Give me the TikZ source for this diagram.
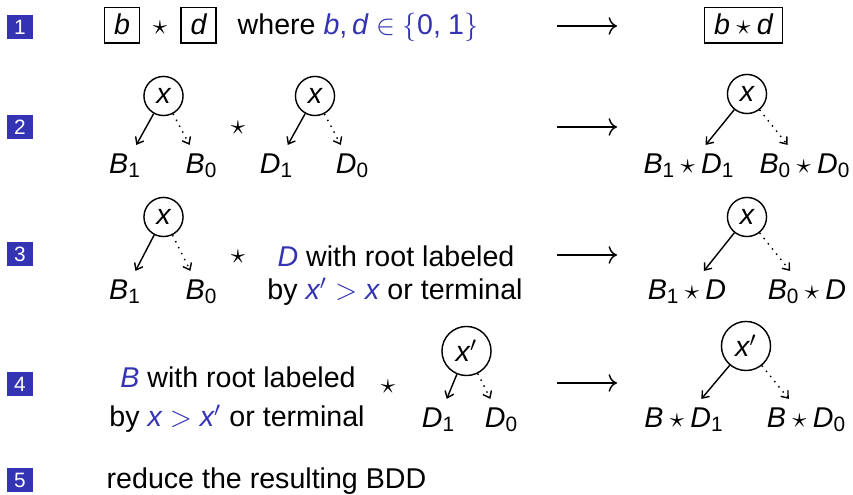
\documentclass[tikz,border=0pt]{standalone}
\usepackage{fontspec}
\setmainfont{Liberation Sans}
\usetikzlibrary{arrows.meta}
\definecolor{mblue}{RGB}{51,51,179}
% italic variable, small lowered index, binary star, relation with spacing
\newcommand\mv[1]{{\itshape #1}}
\newcommand\lo[1]{\raisebox{-1.5pt}{\fontsize{8}{8}\selectfont #1}}
\newcommand\op{\hspace{0.222em}$\star$\hspace{0.222em}}
\newcommand\rl[1]{\hspace{0.278em}$#1$\hspace{0.278em}}
\begin{document}
\begin{tikzpicture}[x=0.3846pt,y=-0.3846pt,
  font=\fontsize{11}{13}\selectfont, line width=0.55pt,
  num/.style={fill=mblue, text=white, minimum width=10pt, minimum height=9.6pt,
    inner sep=0pt, font=\fontsize{8}{8}\selectfont},
  txt/.style={inner sep=0pt, anchor=base},
  sym/.style={inner sep=0pt, anchor=center},
  bxd/.style={draw, inner xsep=3.6pt, inner ysep=3pt, text height=7.5pt,
    text depth=0pt, anchor=base},
  var/.style={draw, circle, inner sep=2.5pt, minimum size=15pt},
  leaf/.style={anchor=base},
  hiedge/.style={-{Straight Barb[length=2.3pt,width=3.6pt]}},
  loedge/.style={-{Straight Barb[length=2.3pt,width=3.6pt]}, dotted},
  flow/.style={-{To[scale=1.15]}}]
\useasboundingbox (0,0) rectangle (853,495);

% item markers
\node[num] (n1) at (20,27) {1};
\node[num] (n2) at (20,127) {2};
\node[num] (n3) at (20,254) {3};
\node[num] (n4) at (20,384) {4};
\node[num] (n5) at (20,480) {5};

% case 1: two terminals
\node[bxd] (bb) at (122,35) {\mv{b}};
\node[sym] (s1) at (160,28) {$\star$};
\node[bxd] (bd) at (198.5,35) {\mv{d}};
\node[txt, anchor=base west] (wh) at (237,35)
  {where \textcolor{mblue}{\mv{b},\,\mv{d}\rl{\in}$\{$0,\hspace{0.25em}1$\}$}};
\coordinate (a1s) at (557,26);
\coordinate (a1e) at (617,26);
\draw[flow] (a1s) -- (a1e);
\node[bxd] (bsd) at (743.5,35) {\mv{b}\op\mv{d}};

% case 2: same root variable
\node[var] (p2a) at (163.5,96) {\mv{x}};
\node[leaf] (b21) at (124.5,174) {\mv{B}\lo{1}};
\node[leaf] (b20) at (201,174) {\mv{B}\lo{0}};
\draw[hiedge] (p2a) -- (b21);
\draw[loedge] (p2a) -- (b20);
\node[sym] (s2) at (238,128) {$\star$};
\node[var] (p2b) at (315,96) {\mv{x}};
\node[leaf] (d21) at (276,174) {\mv{D}\lo{1}};
\node[leaf] (d20) at (352,174) {\mv{D}\lo{0}};
\draw[hiedge] (p2b) -- (d21);
\draw[loedge] (p2b) -- (d20);
\coordinate (a2s) at (557,127);
\coordinate (a2e) at (617,127);
\draw[flow] (a2s) -- (a2e);
\node[var] (p2r) at (747,94) {\mv{x}};
\node[leaf] (r21) at (688.5,174) {\mv{B}\lo{1}\op\mv{D}\lo{1}};
\node[leaf] (r20) at (804.5,174) {\mv{B}\lo{0}\op\mv{D}\lo{0}};
\draw[hiedge] (p2r) -- (r21);
\draw[loedge] (p2r) -- (r20);

% case 3: left root comes first
\node[var] (p3a) at (163.5,217) {\mv{x}};
\node[leaf] (b31) at (124.5,300) {\mv{B}\lo{1}};
\node[leaf] (b30) at (201,300) {\mv{B}\lo{0}};
\draw[hiedge] (p3a) -- (b31);
\draw[loedge] (p3a) -- (b30);
\node[sym] (s3) at (238,257) {$\star$};
\node[txt] (t3a) at (396,267) {\textcolor{mblue}{\mv{D}} with root labeled};
\node[txt] (t3b) at (395,300)
  {by \textcolor{mblue}{\mv{x}$'$\rl{>}\mv{x}} or terminal};
\coordinate (a3s) at (557,255);
\coordinate (a3e) at (617,255);
\draw[flow] (a3s) -- (a3e);
\node[var] (p3r) at (747,217) {\mv{x}};
\node[leaf] (r31) at (687,300) {\mv{B}\lo{1}\op\mv{D}};
\node[leaf] (r30) at (807,300) {\mv{B}\lo{0}\op\mv{D}};
\draw[hiedge] (p3r) -- (r31);
\draw[loedge] (p3r) -- (r30);

% case 4: right root comes first
\node[txt] (t4a) at (238,388) {\textcolor{mblue}{\mv{B}} with root labeled};
\node[txt] (t4b) at (237,427)
  {by \textcolor{mblue}{\mv{x}\rl{>}\mv{x}$'$} or terminal};
\node[sym] (s4) at (388,387) {$\star$};
\node[var] (p4a) at (466.5,351) {\mv{x}$'$};
\node[leaf] (d41) at (438,428) {\mv{D}\lo{1}};
\node[leaf] (d40) at (501,428) {\mv{D}\lo{0}};
\draw[hiedge] (p4a) -- (d41);
\draw[loedge] (p4a) -- (d40);
\coordinate (a4s) at (557,383);
\coordinate (a4e) at (617,383);
\draw[flow] (a4s) -- (a4e);
\node[var] (p4r) at (746,346) {\mv{x}$'$};
\node[leaf] (r41) at (683.5,428) {\mv{B}\op\mv{D}\lo{1}};
\node[leaf] (r40) at (806,428) {\mv{B}\op\mv{D}\lo{0}};
\draw[hiedge] (p4r) -- (r41);
\draw[loedge] (p4r) -- (r40);

% step 5
\node[txt, anchor=base west] (t5) at (106,489) {reduce the resulting BDD};
\end{tikzpicture}
\end{document}
